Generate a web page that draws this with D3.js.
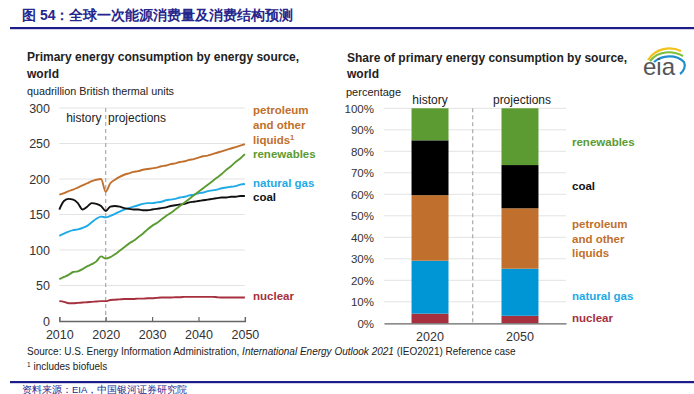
<!DOCTYPE html>
<html><head><meta charset="utf-8">
<script src="https://cdn.jsdelivr.net/npm/d3@7"></script>
<style>
html,body{margin:0;padding:0;background:#fff;}
svg{display:block;}
text{font-family:"Liberation Sans",Arial,sans-serif;}
</style></head>
<body>
<svg id="c" width="694" height="394"></svg>
<script>
// ---------- data ----------
const years = d3.range(2010, 2051);
const petroleum = [178,180,183,185,188,191,194,197,199,200,182,194,199,203,206,208,210,211,213,214,215,216,218,219,221,222,224,225,227,228,230,232,233,235,237,239,241,243,245,247,249];
const renewables = [59,62,65,69,70,73,77,80,84,91,88,90,94,99,104,109,113,118,123,129,134,138,143,148,152,157,162,167,172,177,182,187,192,197,202,207,213,218,224,229,235];
const naturalGas = [120,123,126,128,129,131,134,139,144,147,146,148,151,154,157,159,161,163,165,166,166,167,168,170,171,172,174,175,177,178,180,181,183,184,185,187,188,189,190,192,193];
const coal = [157,169,172,171,166,157,161,166,165,162,155,161,162,161,159,158,157,157,156,156,157,158,159,160,162,163,164,165,167,168,169,170,171,172,173,174,174,175,175,176,176];
const nuclear = [28,27,25,25,25.5,26,26.5,27,27.5,28,28,29.5,30,30.5,31,31,31,31.5,31.5,32,32,32.5,33,33,33,33.5,33.5,34,34,34,34,34,34,34,33.5,33,33,33,33,33,33];

const lineYTicks = [0,50,100,150,200,250,300];
const lineXTicks = [2010,2020,2030,2040,2050];

const barCategories = ["2020","2050"];
const shareSources = ["nuclear","natural gas","petroleum","coal","renewables"];
const share2020 = [4.5,24.6,30.5,25.5,14.9];
const share2050 = [3.5,21.9,28.1,20.1,26.4];
const shareTicks = [0,10,20,30,40,50,60,70,80,90,100];

const colors = {petroleum:"#c0702c", renewables:"#5b9b32", gas:"#1eaae6", coal:"#111111", nuclear:"#a6303e", gasBar:"#0096d6"};

// ---------- drawing ----------
const svg = d3.select("#c");
const navy = "#1c1c8a";

// header
svg.append("text").attr("x",22).attr("y",20).attr("font-family","'Noto Sans CJK SC',sans-serif")
  .attr("font-size",14).attr("font-weight","bold").attr("fill","#26268c")
  .text("图 54：全球一次能源消费量及消费结构预测");
svg.append("rect").attr("x",10).attr("y",27).attr("width",684).attr("height",2.2).attr("fill",navy);
svg.append("rect").attr("x",10).attr("y",381).attr("width",684).attr("height",2.2).attr("fill",navy);
svg.append("text").attr("x",22).attr("y",393).attr("font-family","'Noto Sans CJK SC',sans-serif")
  .attr("font-size",9.5).attr("fill","#26268c").text("资料来源：EIA，中国银河证券研究院");

// ----- left chart -----
const x = d3.scaleLinear().domain([2010,2050]).range([59.3,244.9]);
const y = d3.scaleLinear().domain([0,300]).range([321,108]);

svg.append("text").attr("x",27).attr("y",61).attr("font-size",12).attr("font-weight","bold").attr("fill","#222")
  .text("Primary energy consumption by energy source,");
svg.append("text").attr("x",27).attr("y",78).attr("font-size",12).attr("font-weight","bold").attr("fill","#222").text("world");
svg.append("text").attr("x",27).attr("y",94.5).attr("font-size",10.8).attr("fill","#222").text("quadrillion  British thermal units");

const gl = svg.append("g");
gl.selectAll("line.grid").data(lineYTicks.filter(d=>d>0)).join("line")
  .attr("x1",x(2010)).attr("x2",x(2050)).attr("y1",d=>y(d)).attr("y2",d=>y(d))
  .attr("stroke","#e3e3e3").attr("stroke-width",1);
gl.selectAll("text.yt").data(lineYTicks).join("text")
  .attr("x",50).attr("y",d=>y(d)+4.5).attr("text-anchor","end").attr("font-size",12.5).attr("fill","#333").text(d=>d);
// dashed divider
gl.append("line").attr("x1",x(2020)).attr("x2",x(2020)).attr("y1",y(300)).attr("y2",y(0))
  .attr("stroke","#aaa").attr("stroke-dasharray","4,3").attr("stroke-width",1.2);
gl.append("text").attr("x",101.5).attr("y",122).attr("text-anchor","end").attr("font-size",12).attr("fill","#222").text("history");
gl.append("text").attr("x",108).attr("y",122).attr("font-size",12).attr("fill","#222").text("projections");
// x axis
const xAxis = d3.axisBottom(x).tickValues(lineXTicks).tickFormat(d3.format("d")).tickSize(-4).tickPadding(9);
const xg = gl.append("g").attr("transform",`translate(0,${y(0)})`).call(xAxis);
xg.select(".domain").attr("stroke","#666").attr("stroke-width",1.3);
xg.selectAll(".tick line").attr("stroke","#666").attr("stroke-width",1.2);
xg.selectAll(".tick text").attr("font-size",12.5).attr("fill","#333").attr("font-family","'Liberation Sans',Arial,sans-serif");

const line = d3.line().x((d,i)=>x(years[i])).y(d=>y(d)).curve(d3.curveMonotoneX);
const seriesList = [
  {v:nuclear,c:colors.nuclear},
  {v:naturalGas,c:colors.gas},
  {v:coal,c:colors.coal},
  {v:renewables,c:colors.renewables},
  {v:petroleum,c:colors.petroleum}
];
gl.selectAll("path.s").data(seriesList).join("path")
  .attr("d",d=>line(d.v)).attr("fill","none").attr("stroke",d=>d.c).attr("stroke-width",1.9);

const lblL = [
  {t:"petroleum",y:114,c:colors.petroleum},
  {t:"and other",y:129,c:colors.petroleum},
  {t:"liquids",y:143.5,c:colors.petroleum,sup:true},
  {t:"renewables",y:158,c:colors.renewables},
  {t:"natural gas",y:187,c:colors.gas},
  {t:"coal",y:201,c:colors.coal},
  {t:"nuclear",y:300,c:colors.nuclear}
];
lblL.forEach(l=>{
  const t = gl.append("text").attr("x",253).attr("y",l.y).attr("font-size",11.5).attr("font-weight","bold").attr("fill",l.c).text(l.t);
  if(l.sup) t.append("tspan").attr("dy",-4).attr("font-size",7.5).text("1");
});

// ----- right chart -----
const xb = d3.scaleBand().domain(barCategories).range([384,566]).paddingInner(0.589).paddingOuter(0.306);
const yb = d3.scaleLinear().domain([0,100]).range([323.3,108.3]);

svg.append("text").attr("x",347).attr("y",62).attr("font-size",12).attr("font-weight","bold").attr("fill","#222")
  .text("Share of primary energy consumption  by source,");
svg.append("text").attr("x",347).attr("y",78).attr("font-size",12).attr("font-weight","bold").attr("fill","#222").text("world");
svg.append("text").attr("x",346).attr("y",96).attr("font-size",11).attr("fill","#222").text("percentage");

const gr = svg.append("g");
gr.selectAll("line.grid").data(shareTicks.filter(d=>d>0)).join("line")
  .attr("x1",384).attr("x2",566).attr("y1",d=>yb(d)).attr("y2",d=>yb(d))
  .attr("stroke","#e3e3e3").attr("stroke-width",1);
gr.selectAll("text.yt").data(shareTicks).join("text")
  .attr("x",374).attr("y",d=>yb(d)+4.2).attr("text-anchor","end").attr("font-size",11.5).attr("fill","#333").text(d=>d+"%");
gr.append("line").attr("x1",472.7).attr("x2",472.7).attr("y1",yb(100)).attr("y2",yb(0))
  .attr("stroke","#aaa").attr("stroke-dasharray","4,3").attr("stroke-width",1.2);

const shareData = barCategories.map((c,i)=>{
  const vals = i===0?share2020:share2050;
  const o = {cat:c}; shareSources.forEach((s,j)=>o[s]=vals[j]); return o;
});
const stack = d3.stack().keys(shareSources)(shareData);
const barColor = {"nuclear":colors.nuclear,"natural gas":colors.gasBar,"petroleum":colors.petroleum,"coal":"#000","renewables":colors.renewables};
gr.selectAll("g.layer").data(stack).join("g").attr("fill",d=>barColor[d.key])
  .selectAll("rect").data(d=>d).join("rect")
  .attr("x",d=>xb(d.data.cat)).attr("width",xb.bandwidth())
  .attr("y",d=>yb(d[1])).attr("height",d=>yb(d[0])-yb(d[1]));

const xbAxis = d3.axisBottom(xb).tickSize(0).tickPadding(9);
const xbg = gr.append("g").attr("transform",`translate(0,${yb(0)})`).call(xbAxis);
xbg.select(".domain").attr("stroke","#666").attr("stroke-width",1.3);
xbg.selectAll(".tick text").attr("font-size",12.5).attr("fill","#333").attr("font-family","'Liberation Sans',Arial,sans-serif");

gr.append("text").attr("x",xb("2020")+xb.bandwidth()/2).attr("y",104).attr("text-anchor","middle").attr("font-size",12).attr("fill","#222").text("history");
gr.append("text").attr("x",xb("2050")+xb.bandwidth()/2+2).attr("y",104).attr("text-anchor","middle").attr("font-size",12).attr("fill","#222").text("projections");

const lblR = [
  {t:"renewables",y:146,c:colors.renewables},
  {t:"coal",y:190,c:colors.coal},
  {t:"petroleum",y:228,c:colors.petroleum},
  {t:"and other",y:242.5,c:colors.petroleum},
  {t:"liquids",y:257,c:colors.petroleum},
  {t:"natural gas",y:300,c:colors.gas},
  {t:"nuclear",y:321.5,c:colors.nuclear}
];
lblR.forEach(l=>{
  gr.append("text").attr("x",572).attr("y",l.y).attr("font-size",11.5).attr("font-weight","bold").attr("fill",l.c).text(l.t);
});

// source
const src = svg.append("text").attr("x",27).attr("y",355).attr("font-size",10).attr("fill","#222");
src.append("tspan").text("Source:  U.S. Energy Information Administration, ");
src.append("tspan").attr("font-style","italic").text("International Energy Outlook 2021");
src.append("tspan").text(" (IEO2021) Reference case");
const fn = svg.append("text").attr("x",27).attr("y",370).attr("font-size",10).attr("fill","#222");
fn.append("tspan").attr("font-size",6.5).attr("dy",-3).text("1");
fn.append("tspan").attr("dy",3).text(" includes biofuels");

// eia logo
const logo = svg.append("g");
logo.append("path").attr("d","M648,60 C656,48 670,46 681,51").attr("fill","none").attr("stroke","#f2c21b").attr("stroke-width",2.2);
logo.append("path").attr("d","M650,61 C658,51 672,50 683,56").attr("fill","none").attr("stroke","#7bbf3a").attr("stroke-width",2.2);
logo.append("path").attr("d","M654,62 C662,55 676,54 684,62 C686,66 684,71 680,74").attr("fill","none").attr("stroke","#1f8fd0").attr("stroke-width",2.2);
logo.append("text").attr("x",643).attr("y",75).attr("font-family","'Liberation Serif',serif").attr("font-size",24).attr("fill","#555").text("eia");
</script>
</body></html>
